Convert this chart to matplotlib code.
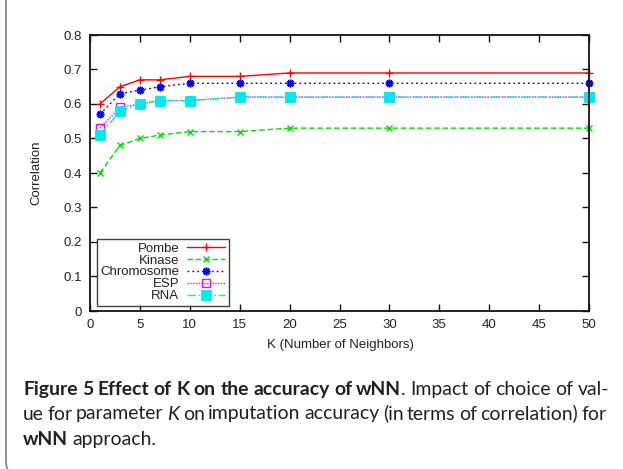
import matplotlib
matplotlib.use("Agg")
import matplotlib.pyplot as plt
from matplotlib.patches import FancyBboxPatch

# ---------------- data ----------------
k_values = [1, 3, 5, 7, 10, 15, 20, 30, 50]
pombe = [0.60, 0.65, 0.67, 0.67, 0.68, 0.68, 0.69, 0.69, 0.69]
kinase = [0.40, 0.48, 0.50, 0.51, 0.52, 0.52, 0.53, 0.53, 0.53]
chromosome = [0.57, 0.63, 0.64, 0.65, 0.66, 0.66, 0.66, 0.66, 0.66]
esp = [0.53, 0.59, 0.60, 0.61, 0.61, 0.62, 0.62, 0.62, 0.62]
rna = [0.51, 0.58, 0.60, 0.61, 0.61, 0.62, 0.62, 0.62, 0.62]
series_names = ["Pombe", "Kinase", "Chromosome", "ESP", "RNA"]
x_ticks = [0, 5, 10, 15, 20, 25, 30, 35, 40, 45, 50]
y_ticks = [0, 0.1, 0.2, 0.3, 0.4, 0.5, 0.6, 0.7, 0.8]
y_tick_labels = ["0", "0.1", "0.2", "0.3", "0.4", "0.5", "0.6", "0.7", "0.8"]
x_label = "K (Number of Neighbors)"
y_label = "Correlation"

W, H = 623, 469
fig = plt.figure(figsize=(W / 100, H / 100), dpi=100)
fig.patch.set_facecolor("white")


def fx(x):
    return x / W


def fy(y):
    return 1 - y / H


# outer rounded frame
frame = FancyBboxPatch((fx(6), fy(476)), fx(700), 1.2,
                       boxstyle="round,pad=0,rounding_size=0.024",
                       transform=fig.transFigure, facecolor="white",
                       edgecolor="#8f8f8f", linewidth=1.4,
                       mutation_aspect=W / H, zorder=0)
fig.patches.append(frame)

# ---------------- axes ----------------
L, R, T, B = 90, 589, 35, 311
ax = fig.add_axes([fx(L), fy(B), fx(R - L), (B - T) / H])
ax.set_zorder(2)

tick_font = dict(family=["Liberation Sans", "DejaVu Sans"], size=9.5)

styles = [
    dict(color="#ff0000", ls="-", marker="+", ms=6, mew=1.0),
    dict(color="#00e000", ls=(0, (4, 2)), marker="x", ms=4.5, mew=1.0),
    dict(color="#0000ff", ls=(0, (1.3, 2.2)), marker=(8, 2, 0), ms=5.5, mew=1.2),
    dict(color="#ff00ff", ls=(0, (1, 1)), marker="s", ms=5.5, mfc="none", mew=1.0),
    dict(color="#00e8f0", ls=(0, (6, 2, 1.2, 2)), marker="s", ms=6.5, mew=0.6),
]
series = [pombe, kinase, chromosome, esp, rna]
lines = []
for name, vals, st in zip(series_names, series, styles):
    ln, = ax.plot(k_values, vals, label=name, lw=1.0, clip_on=False, **st)
    lines.append(ln)

ax.set_xlim(0, 50)
ax.set_ylim(0, 0.8)
ax.set_xticks(x_ticks)
ax.set_xticklabels([str(v) for v in x_ticks])
ax.set_yticks(y_ticks)
ax.set_yticklabels(y_tick_labels)
for s in ax.spines.values():
    s.set_linewidth(1.3)
    s.set_color("#111111")
ax.tick_params(direction="in", length=5, width=1.0, top=True, right=True,
               colors="#111111", labelcolor="#222222")
ax.tick_params(axis="x", pad=6)
ax.tick_params(axis="y", pad=6)
for lab in ax.get_xticklabels() + ax.get_yticklabels():
    lab.set_fontfamily(tick_font["family"])
    lab.set_fontsize(tick_font["size"])

ax.set_xlabel(x_label, fontsize=9.5, family=tick_font["family"], color="#222222")
ax.set_ylabel(y_label, fontsize=9.5, family=tick_font["family"], color="#222222")
ax.xaxis.set_label_coords((340 - L) / (R - L), (B - 339) / (B - T))
ax.yaxis.set_label_coords((42 - L) / (R - L), 0.5)

leg = ax.legend(handles=lines, loc="upper left",
                bbox_to_anchor=(fx(97), fy(239)), bbox_transform=fig.transFigure,
                borderaxespad=0, markerfirst=False, frameon=True, fancybox=False,
                handlelength=2.9, handletextpad=0.6, labelspacing=-0.02,
                borderpad=0.25, prop=dict(family=tick_font["family"], size=9.5))
leg.get_frame().set_edgecolor("#111111")
leg.get_frame().set_linewidth(1.0)
for t in leg.get_texts():
    t.set_color("#222222")

# ---------------- caption ----------------
cap_family = ["Lato", "DejaVu Sans"]
cap_color = "#231f20"


def words(text, style):
    return [[(w, style)] for w in text.split()]


line1 = words("Figure 5 Effect of K on the accuracy of", "b") + \
    [[("wNN", "b"), (".", "r")]] + words("Impact of choice of val-", "r")
line2 = words("ue for parameter", "r") + [[("K", "i")]] + \
    words("on imputation accuracy (in terms of correlation) for", "r")
line3 = [[("wNN", "b")]] + words("approach.", "r")

renderer = fig.canvas.get_renderer()


def kw(style, size):
    d = dict(fontsize=size, family=cap_family, color=cap_color)
    if style == "b":
        d["fontweight"] = "bold"
    else:
        d["fontweight"] = "normal"
    if style == "i":
        d["fontstyle"] = "italic"
    return d


def run_width(txt, style, size):
    t = fig.text(0, 0, txt, **kw(style, size))
    w = t.get_window_extent(renderer).width
    t.remove()
    return w


def word_width(word, size):
    return sum(run_width(t, s, size) for t, s in word)


SP = 0.22


def natural_width(line, size):
    sp = SP * size * 100 / 72
    return sum(word_width(w, size) for w in line) + sp * (len(line) - 1)


x_start = 23
target1 = 609 - x_start
target2 = 607 - x_start
base_size = 10.0
cap_size = base_size * target1 / natural_width(line1, base_size)


def draw_line(line, y, target=None):
    widths = [word_width(w, cap_size) for w in line]
    if target is None:
        gap = SP * cap_size * 100 / 72
    else:
        gap = (target - sum(widths)) / (len(line) - 1)
    x = x_start
    for w, wd in zip(line, widths):
        xx = x
        for t, s in w:
            fig.text(fx(xx), fy(y), t, va="baseline", ha="left", **kw(s, cap_size))
            xx += run_width(t, s, cap_size)
        x += wd + gap


draw_line(line1, 394.5, target1)
draw_line(line2, 419.5, target2)
draw_line(line3, 444.5)

fig.savefig("out.png", dpi=100, facecolor="white")
